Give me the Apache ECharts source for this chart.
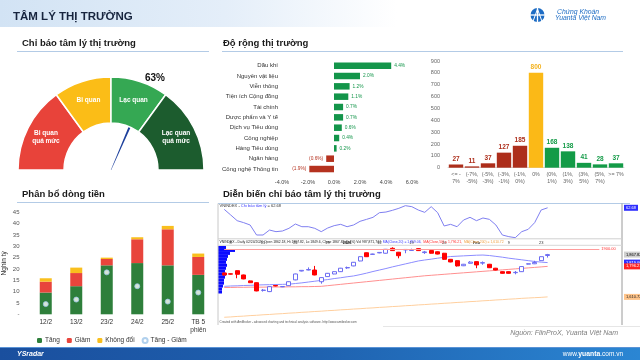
<!DOCTYPE html>
<html><head><meta charset="utf-8">
<script src="https://cdn.jsdelivr.net/npm/echarts@6/dist/echarts.min.js"></script>
<style>html,body{margin:0;padding:0;background:#fff}#c{width:640px;height:360px}</style>
</head><body><div id="c"></div>
<script>
// ---------- DATA ----------
const gaugeZones = ['Bi quan\nquá mức', 'Bi quan', 'Lạc quan', 'Lạc quan\nquá mức'];
const gaugeZoneSizes = [30, 20, 20, 30];
const sentimentNow = 63;

const sectors = ['Dầu khí', 'Nguyên vật liệu', 'Viễn thông', 'Tiện ích Cộng đồng', 'Tài chính', 'Dược phẩm và Y tế', 'Dịch vụ Tiêu dùng', 'Công nghiệp', 'Hàng Tiêu dùng', 'Ngân hàng', 'Công nghệ Thông tin'];
const sectorChange = [4.4, 2.0, 1.2, 1.1, 0.7, 0.7, 0.6, 0.4, 0.2, -0.6, -1.9];

const rangeBuckets = ['<= -\n7%', '(-7%,\n-5%)', '(-5%,\n-3%)', '(-3%,\n-1%)', '(-1%,\n0%)', '0%', '(0%,\n1%)', '(1%,\n3%)', '(3%,\n5%)', '(5%,\n7%)', '>= 7%'];
const stockCounts = [27, 11, 37, 127, 185, 800, 168, 138, 41, 28, 37];

const flowDays = ['12/2', '13/2', '23/2', '24/2', '25/2', 'TB 5\nphiên'];
const flowUp = [9.6, 12.4, 21.6, 22.6, 21.6, 17.4];
const flowDown = [4.8, 5.8, 2.8, 10.5, 15.9, 7.9];
const flowFlat = [1.5, 2.4, 0.6, 0.9, 1.5, 1.5];
const flowNet = [4.5, 6.5, 18.5, 12.4, 5.6, 9.6];

// AmiBroker panel: 51 sessions shown on a 62-slot axis
const sessionSlots = 62;
const dateTickIdx = [2, 7, 12, 17, 20, 25, 30, 35, 40, 45, 50];
const dateTickText = ['8', '15', '22', '29', '2026', '12', '19', '26', 'Feb', '9', '23'];
const sentimentLine = [60.3, 51.7, 43.0, 40.0, 36.4, 21.1, 21.1, 28.7, 26.2, 27.2, 31.3, 37.9, 33.8, 33.8, 31.3, 26.2, 31.8, 35.4, 37.4, 33.8, 36.4, 42.0, 45.0, 48.1, 55.2, 56.2, 58.8, 61.9, 65.9, 64.4, 59.3, 55.7, 64.4, 55.2, 34.9, 37.4, 33.8, 44.0, 48.1, 43.0, 47.1, 45.0, 36.4, 21.1, 18.6, 17.0, 26.2, 29.8, 40.0, 59.3, 62.68];
// [open, close, low, high]
const candles = [
  [1756, 1744, 1740, 1758], [1751, 1749, 1747, 1753], [1770, 1748, 1724, 1772], [1744, 1720, 1718, 1746], [1708, 1697, 1695, 1710],
  [1697, 1647, 1645, 1699], [1650, 1652, 1643, 1659], [1643, 1673, 1640, 1675], [1680, 1677, 1675, 1682], [1672, 1674, 1670, 1676],
  [1679, 1703, 1677, 1705], [1714, 1750, 1712, 1752], [1768, 1772, 1766, 1774], [1774, 1777, 1772, 1790], [1774, 1744, 1742, 1799],
  [1703, 1728, 1691, 1730], [1734, 1754, 1732, 1756], [1750, 1764, 1748, 1766], [1764, 1785, 1762, 1787], [1787, 1789, 1781, 1795],
  [1799, 1821, 1797, 1823], [1829, 1855, 1827, 1857], [1879, 1855, 1853, 1881], [1869, 1871, 1867, 1873], [1878, 1881, 1876, 1883],
  [1876, 1900, 1874, 1902], [1906, 1892, 1890, 1912], [1882, 1861, 1845, 1884], [1896, 1899, 1876, 1901], [1893, 1896, 1891, 1904],
  [1904, 1892, 1890, 1906], [1880, 1884, 1872, 1890], [1892, 1876, 1874, 1894], [1885, 1871, 1869, 1887], [1876, 1839, 1835, 1878],
  [1839, 1823, 1821, 1841], [1831, 1799, 1795, 1833], [1800, 1809, 1798, 1811], [1815, 1822, 1813, 1828], [1825, 1805, 1785, 1827],
  [1816, 1819, 1806, 1826], [1809, 1788, 1786, 1811], [1785, 1774, 1772, 1787], [1764, 1754, 1752, 1766], [1764, 1754, 1752, 1766],
  [1758, 1760, 1748, 1768], [1764, 1795, 1762, 1797], [1810, 1812, 1808, 1814], [1812, 1820, 1810, 1830], [1831, 1855, 1829, 1857],
  [1862.18, 1867.82, 1849.6, 1872]
];
const ma20 = [1675, 1677, 1678, 1680, 1681, 1683, 1684, 1685, 1686, 1687, 1688, 1692, 1696, 1701, 1706, 1711, 1716, 1722, 1727, 1733, 1738, 1746, 1755, 1765, 1774, 1783, 1793, 1802, 1811, 1820, 1829, 1835, 1840, 1846, 1851, 1856, 1858, 1860, 1862, 1864, 1865, 1862, 1857, 1852, 1846, 1841, 1836, 1831, 1826, 1822, 1819.06];
const ma50 = [1668, 1668, 1669, 1669, 1670, 1670, 1670, 1671, 1671, 1671, 1672, 1672, 1673, 1673, 1674, 1675, 1679, 1683, 1687, 1691, 1695, 1699, 1703, 1707, 1711, 1715, 1719, 1723, 1727, 1731, 1735, 1739, 1742, 1745, 1748, 1751, 1754, 1757, 1760, 1763, 1766, 1769, 1772, 1775, 1778, 1781, 1784, 1787, 1790, 1793, 1796.21];
const ma200 = [1487, 1489, 1492, 1494, 1497, 1499, 1502, 1504, 1507, 1509, 1512, 1514, 1517, 1519, 1522, 1524, 1527, 1529, 1532, 1534, 1537, 1539, 1542, 1544, 1547, 1549, 1552, 1554, 1557, 1559, 1562, 1564, 1567, 1569, 1572, 1574, 1577, 1579, 1582, 1584, 1587, 1589, 1592, 1594, 1597, 1599, 1602, 1604, 1606, 1608, 1610.72];
const profilePrices = ['1911', '1893', '1875', '1857', '1839', '1821', '1803', '1785', '1767', '1749', '1731', '1713', '1695', '1677', '1659', '1641'];
const profileVolume = [8, 17, 12, 10, 9, 8, 9, 8, 7, 8, 7, 6, 6, 5, 4, 4];
const resistanceLevel = 1900;
const rightPriceTags = [1867.82, 1819.06, 1796.21, 1610.72];

// ---------- CHART ----------
const F = '"Liberation Sans", Arial, sans-serif';
const RED = '#e8433a', YEL = '#fbbd17', GRN = '#35a853', DGRN = '#1c5c2e';
const chart = echarts.init(document.getElementById('c'));
const slots = Array.from({length: sessionSlots}, (_, i) => String(i + 1));
const fmtNum = v => v.toLocaleString('en-US', {minimumFractionDigits: 2, maximumFractionDigits: 2});

function txt(x, y, text, font, fill, align, extra) {
  return {type: 'text', x, y, z: 10, style: Object.assign({text, font, fill, align: align || 'left', verticalAlign: 'middle'}, extra || {})};
}
function line(x1, y1, x2, y2, color, w, z) {
  return {type: 'line', z: z || 5, shape: {x1, y1, x2, y2}, style: {stroke: color, lineWidth: w || 1}};
}

const graphic = [
  {type: 'rect', z: 0, shape: {x: 0, y: 0, width: 640, height: 27}, style: {fill: new echarts.graphic.LinearGradient(0, 0, 1, 0, [{offset: 0, color: '#d2e3f4'}, {offset: 0.35, color: '#e4eef9'}, {offset: 0.62, color: '#ffffff'}])}},
  txt(13, 17, 'TÂM LÝ THỊ TRƯỜNG', 'bold 11.5px ' + F, '#17243e'),
  {type: 'circle', z: 10, shape: {cx: 537.5, cy: 15, r: 7}, style: {fill: '#1d6cc4'}},
  line(537.5, 7.5, 537.5, 22.5, '#fff', 1.3, 11), line(530, 15, 545, 15, '#fff', 1.3, 11),
  line(533, 21.5, 537.5, 9, '#fff', 1, 11), line(542, 21.5, 537.5, 9, '#fff', 1, 11),
  txt(557, 12.5, 'Chứng Khoán', 'italic 6.8px ' + F, '#1d6cc4'),
  txt(555, 18.5, 'Yuanta Việt Nam', 'italic 6.8px ' + F, '#1d6cc4'),
  // section titles
  txt(22, 43.5, 'Chỉ báo tâm lý thị trường', 'bold 9.5px ' + F, '#1a1a1a'),
  line(17, 51.5, 209, 51.5, '#b3cbe6'),
  txt(223, 43.5, 'Độ rộng thị trường', 'bold 9.5px ' + F, '#1a1a1a'),
  line(222, 51.5, 623, 51.5, '#b3cbe6'),
  txt(22, 194.5, 'Phân bổ dòng tiền', 'bold 9.5px ' + F, '#1a1a1a'),
  line(17, 202.5, 209, 202.5, '#b3cbe6'),
  txt(223, 194.5, 'Diễn biến chỉ báo tâm lý thị trường', 'bold 9.5px ' + F, '#1a1a1a'),
  // AmiBroker panel frame
  line(218, 203.5, 630, 203.5, '#b3cbe6'),
  line(218, 203.5, 218, 325, '#c8c8c8'),
  line(622, 203.5, 622, 325, '#9a9a9a'),
  line(218, 238.8, 622, 238.8, '#d0d0d0'),
  line(218, 245.3, 622, 245.3, '#d8d8d8'),
  line(383, 326.5, 640, 326.5, '#e6e6e6'),
  txt(219.5, 206, '{k|VNINDEX - }{b|Chỉ báo tâm lý}{k| = 62.68}', '4px ' + F, '#333', 'left', {rich: {k: {fontSize: 4, fill: '#333'}, b: {fontSize: 4, fill: '#3a3aff'}}}),
  txt(219.5, 242.3, '{k|VNINDEX - Daily 02/24/2026 Open 1862.18, Hi 1867.82, Lo 1849.6, Close 1867.82 (0.4%) Vol 987,871,744  }{b|MA(Close,20) = 1,819.06,  }{r|MA(Close,50) = 1,796.21,  }{o|MA(Close,200) = 1,610.72}', '3.4px ' + F, '#333', 'left',
    {rich: {k: {fontSize: 3.4, fill: '#222'}, b: {fontSize: 3.4, fill: '#3a3aff'}, r: {fontSize: 3.4, fill: '#ff3030'}, o: {fontSize: 3.4, fill: '#f0a040'}}}),
  txt(219.5, 322, 'Created with AmiBroker - advanced charting and technical analysis software. http://www.amibroker.com', '3px ' + F, '#555'),
  // source + footer
  txt(618, 333.5, 'Nguồn: FiinProX, Yuanta Việt Nam', 'italic 7px ' + F, '#7d7d7d', 'right'),
  {type: 'rect', z: 0, shape: {x: 0, y: 347, width: 640, height: 13}, style: {fill: new echarts.graphic.LinearGradient(0, 0, 1, 0, [{offset: 0, color: '#1a4f9e'}, {offset: 0.5, color: '#1f62b0'}, {offset: 1, color: '#2b86d3'}])}},
  line(0, 347.5, 640, 347.5, '#5a93d6'),
  txt(17, 354, 'YSradar', 'italic bold 7px ' + F, '#ffffff'),
  txt(623, 354, '{a|www.}{b|yuanta}{a|.com.vn}', '6.5px ' + F, '#fff', 'right', {rich: {a: {fontSize: 6.5, fill: '#fff'}, b: {fontSize: 6.8, fontWeight: 'bold', fill: '#fff'}}})
];

const tagStyle = {
  g: {backgroundColor: '#cfcfcf', color: '#000', fontSize: 4, padding: [1, 2]},
  b: {backgroundColor: '#2f2fff', color: '#fff', fontSize: 4, padding: [1, 2]},
  r: {backgroundColor: '#ff2222', color: '#fff', fontSize: 4, padding: [1, 2]},
  o: {backgroundColor: '#ffc48a', color: '#222', fontSize: 4, padding: [1, 2]}
};
const tagKeys = ['g', 'b', 'r', 'o'];

const option = {
  animation: false,
  textStyle: {fontFamily: F},
  graphic: graphic,
  legend: {
    data: ['Tăng', 'Giảm', 'Không đổi', 'Tăng - Giảm'],
    left: 32, top: 332, itemWidth: 5, itemHeight: 5, itemGap: 7,
    textStyle: {fontSize: 6.5, color: '#333', padding: [0, 0, 0, -2]}
  },
  grid: [
    {left: 282, top: 60.5, width: 130, height: 113.7},
    {left: 448, top: 61, width: 176, height: 106.7},
    {left: 30.5, top: 212.3, width: 183, height: 102},
    {left: 218, top: 246, width: 40, height: 47.5},
    {left: 221, top: 203, width: 401, height: 36},
    {left: 221, top: 245.5, width: 401, height: 79.5}
  ].map(g => Object.assign(g, {containLabel: false, outerBoundsMode: 'none'})),
  xAxis: [
    {gridIndex: 0, type: 'value', min: -4, max: 6, interval: 2, splitLine: {show: false}, axisLine: {show: false}, axisTick: {show: false},
      axisLabel: {formatter: v => v.toFixed(1) + '%', fontSize: 5.5, color: '#444', margin: 5}},
    {gridIndex: 1, type: 'category', data: rangeBuckets, axisTick: {show: false}, axisLine: {lineStyle: {color: '#d9d9d9'}},
      axisLabel: {interval: 0, fontSize: 5.3, color: '#666', lineHeight: 7.5, margin: 3}},
    {gridIndex: 2, type: 'category', data: flowDays, axisTick: {show: false}, axisLine: {show: false},
      axisLabel: {interval: 0, fontSize: 6.5, color: '#333', lineHeight: 8, margin: 4, verticalAlign: 'top'}},
    {gridIndex: 3, type: 'value', min: 0, max: 40, show: false},
    {gridIndex: 4, type: 'category', data: slots, boundaryGap: true, axisTick: {show: false}, axisLine: {show: false},
      axisLabel: {interval: i => dateTickIdx.indexOf(i + 1) >= 0, margin: 1.5, fontSize: 4, color: '#333',
        formatter: (v, i) => { const t = dateTickText[dateTickIdx.indexOf(i + 1)]; return (t === '2026' || t === 'Feb') ? '{b|' + t + '}' : t; },
        rich: {b: {fontSize: 4, fontWeight: 'bold', color: '#222'}}}},
    {gridIndex: 5, type: 'category', data: slots, boundaryGap: true, show: false}
  ],
  yAxis: [
    {gridIndex: 0, type: 'category', data: sectors, inverse: true, axisTick: {show: false}, axisLine: {show: false},
      axisLabel: {fontSize: 6, color: '#333', margin: 4}},
    {gridIndex: 1, type: 'value', min: 0, max: 900, interval: 100, splitLine: {show: false}, axisLine: {show: false}, axisTick: {show: false},
      axisLabel: {fontSize: 5.5, color: '#666', margin: 8}},
    {gridIndex: 2, type: 'value', min: 0, max: 45, interval: 5, splitLine: {show: false}, axisLine: {show: false}, axisTick: {show: false},
      axisLabel: {fontSize: 6, color: '#555', margin: 11, formatter: v => v === 0 ? '-' : v},
      name: 'Nghìn tỷ', nameLocation: 'middle', nameRotate: 90, nameGap: 23, nameTextStyle: {fontSize: 6.5, color: '#333'}},
    {gridIndex: 3, type: 'category', data: profilePrices, inverse: true, show: false},
    {gridIndex: 4, type: 'value', min: 15, max: 70, position: 'right', splitLine: {show: false}, axisLine: {show: false}, axisTick: {show: false},
      axisLabel: {customValues: [62.68], margin: 2, formatter: v => '{b|' + v.toFixed(2) + '}', rich: {b: tagStyle.b}}},
    {gridIndex: 5, type: 'value', min: 1440, max: 1923, position: 'right', splitLine: {show: false}, axisLine: {show: false}, axisTick: {show: false},
      axisLabel: {customValues: rightPriceTags, margin: 2,
        formatter: v => { const k = tagKeys[rightPriceTags.indexOf(v)] || 'g'; return '{' + k + '|' + fmtNum(v) + '}'; }, rich: tagStyle}}
  ],
  series: [
    // gauge zones
    {type: 'pie', center: [111, 170], radius: [47, 93], startAngle: 180, silent: true, avoidLabelOverlap: false,
      itemStyle: {borderColor: '#fff', borderWidth: 1.5},
      label: {position: 'inside', formatter: '{b}', color: '#fff', fontSize: 6.5, fontWeight: 'bold', lineHeight: 8},
      labelLine: {show: false},
      data: gaugeZones.map((n, i) => ({name: n, value: gaugeZoneSizes[i], itemStyle: {color: [RED, YEL, GRN, DGRN][i]}}))
        .concat([{name: '', value: gaugeZoneSizes.reduce((a, b) => a + b, 0), itemStyle: {color: 'rgba(0,0,0,0)', borderWidth: 0}, label: {show: false}}])},
    {type: 'gauge', center: [111, 170], radius: 93, startAngle: 180, endAngle: 0, min: 0, max: 100, silent: true,
      axisLine: {show: false}, splitLine: {show: false}, axisTick: {show: false}, axisLabel: {show: false},
      pointer: {icon: 'path://M0,0 L4,0 L2.2,40 L1.8,40 Z', length: '100%', width: 3.8, itemStyle: {color: '#1c3f9c'}},
      anchor: {show: false}, title: {show: false},
      detail: {offsetCenter: [44, -92], formatter: '{value}%', fontSize: 10, fontWeight: 'bold', color: '#111'},
      data: [{value: sentimentNow}]},
    // sector breadth
    {type: 'bar', xAxisIndex: 0, yAxisIndex: 0, barWidth: 6.5,
      data: sectorChange.map(v => ({value: v, itemStyle: {color: v >= 0 ? '#13954a' : '#b5321f'},
        label: {show: true, position: v >= 0 ? 'right' : 'left', distance: 3, fontSize: 4.8, color: v >= 0 ? '#13954a' : '#b5321f',
          formatter: v >= 0 ? v.toFixed(1) + '%' : '(' + Math.abs(v).toFixed(1) + '%)'}}))},
    // distribution histogram
    {type: 'bar', xAxisIndex: 1, yAxisIndex: 1, barCategoryGap: '10%',
      data: stockCounts.map((v, i) => {
        const c = i < 5 ? '#ad2e1b' : (i === 5 ? '#fbb917' : '#139b47');
        return {value: v, itemStyle: {color: c}, label: {show: true, position: 'top', distance: 2, fontSize: 6.5, fontWeight: 'bold', color: i === 5 ? '#f3b11c' : c}};
      })},
    // money flow
    {name: 'Tăng', type: 'bar', stack: 'flow', xAxisIndex: 2, yAxisIndex: 2, barWidth: 12, data: flowUp, itemStyle: {color: '#2e7f3b'}},
    {name: 'Giảm', type: 'bar', stack: 'flow', xAxisIndex: 2, yAxisIndex: 2, barWidth: 12, data: flowDown, itemStyle: {color: '#e8453c'}},
    {name: 'Không đổi', type: 'bar', stack: 'flow', xAxisIndex: 2, yAxisIndex: 2, barWidth: 12, data: flowFlat, itemStyle: {color: '#f9bf1d'}},
    {name: 'Tăng - Giảm', type: 'scatter', xAxisIndex: 2, yAxisIndex: 2, symbolSize: 5, data: flowNet, z: 5,
      itemStyle: {color: '#ffffff', borderColor: '#9cc4e8', borderWidth: 1}},
    // volume profile
    {type: 'bar', xAxisIndex: 3, yAxisIndex: 3, barCategoryGap: 0, data: profileVolume, itemStyle: {color: '#0a0aff'}, z: 1, silent: true},
    // sentiment history line
    {type: 'line', xAxisIndex: 4, yAxisIndex: 4, data: sentimentLine, symbol: 'none', lineStyle: {color: '#7f7ff0', width: 1}},
    // candles and MAs
    {type: 'candlestick', xAxisIndex: 5, yAxisIndex: 5, data: candles, barWidth: 4.5, z: 4,
      itemStyle: {color: '#ffffff', color0: '#ff0000', borderColor: '#6c6cf2', borderColor0: '#ff0000', borderWidth: 1},
      markLine: {silent: true, symbol: 'none', lineStyle: {color: '#ff9c9c', type: 'solid', width: 1},
        label: {show: true, position: 'end', formatter: resistanceLevel.toFixed(2), fontSize: 4, color: '#ff3030', distance: 2},
        data: [[{coord: [0, resistanceLevel]}, {coord: [58, resistanceLevel]}]]}},
    {type: 'line', xAxisIndex: 5, yAxisIndex: 5, data: ma20, symbol: 'none', z: 3, lineStyle: {color: '#8c8cff', width: 1}},
    {type: 'line', xAxisIndex: 5, yAxisIndex: 5, data: ma50, symbol: 'none', z: 3, lineStyle: {color: '#ff8f8f', width: 1}},
    {type: 'line', xAxisIndex: 5, yAxisIndex: 5, data: ma200, symbol: 'none', z: 3, lineStyle: {color: '#ffcf9e', width: 1}}
  ]
};
chart.setOption(option);
</script>
</body></html>
